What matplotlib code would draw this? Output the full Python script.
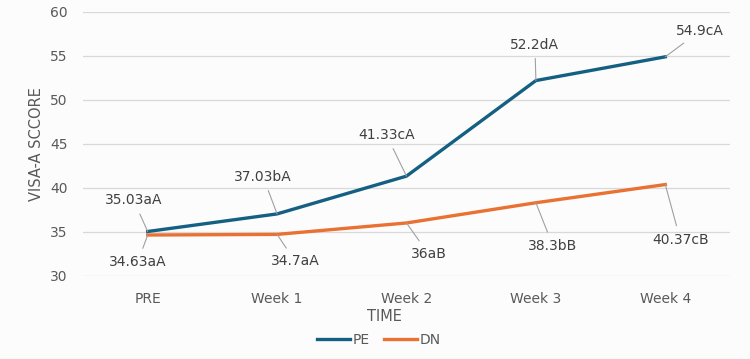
import matplotlib
matplotlib.use('Agg')
from matplotlib import pyplot as plt
import numpy as np

weeks = ['PRE', 'Week 1', 'Week 2', 'Week 3', 'Week 4']
pe = [35.03, 37.03, 41.33, 52.2, 54.9]
dn = [34.63, 34.7, 36.0, 38.3, 40.37]
pe_labels = ['35.03aA', '37.03bA', '41.33cA', '52.2dA', '54.9cA']
dn_labels = ['34.63aA', '34.7aA', '36aB', '38.3bB', '40.37cB']

# label offsets in pixels (dx, dy) from the point
pe_off = [(-14, 31), (-14, 37), (-20, 41), (-1, 36), (35, 26)]
dn_off = [(-10, -27), (18, -27), (22, -31), (17, -43), (15, -55)]

pe_color = '#156082'
dn_color = '#E97132'
txt_color = '#404040'

fig = plt.figure(figsize=(7.5, 3.59), dpi=100, facecolor='#fcfcfc')
ax = fig.add_axes([0.1107, 0.232, 0.8626, 0.7346])
ax.set_facecolor('#fcfcfc')

x = np.arange(len(weeks))
l1, = ax.plot(x, pe, color=pe_color, lw=2.4, solid_joinstyle='round')
l2, = ax.plot(x, dn, color=dn_color, lw=2.4, solid_joinstyle='round')

px = 0.72
for xs, ys, labs, offs in [(x, pe, pe_labels, pe_off), (x, dn, dn_labels, dn_off)]:
    for xi, yi, lab, (dx, dy) in zip(xs, ys, labs, offs):
        ax.annotate(lab, (xi, yi), xytext=(dx * px, dy * px), textcoords='offset points',
                    ha='center', va='center', fontsize=10, color=txt_color,
                    arrowprops=dict(arrowstyle='-', color='#a0a0a0', lw=0.8,
                                    shrinkA=3, shrinkB=0))

ax.set_xlim(-0.5, 4.5)
ax.set_ylim(30, 60)
ax.set_yticks(np.arange(30, 61, 5))
ax.set_xticks(x)
ax.set_xticklabels(weeks)
ax.tick_params(length=0, labelsize=10, labelcolor='#595959', pad=12)
ax.tick_params(axis='y', pad=11)
ax.grid(axis='y', color='#d9d9d9', lw=0.9)
ax.set_axisbelow(True)
for s in ax.spines.values():
    s.set_visible(False)

fig.text(0.049, 0.6, 'VISA-A SCCORE', rotation=90, ha='center', va='center',
         fontsize=10.5, color='#595959')
fig.text(0.513, 0.117, 'TIME', ha='center', va='center', fontsize=10.5, color='#595959')
fig.legend([l1, l2], ['PE', 'DN'], loc='center', bbox_to_anchor=(0.505, 0.052), ncol=2,
           frameon=False, fontsize=10, labelcolor='#595959', handlelength=2.4,
           handletextpad=0.2, columnspacing=1.0)

fig.savefig('out.png', dpi=100, facecolor=fig.get_facecolor())
